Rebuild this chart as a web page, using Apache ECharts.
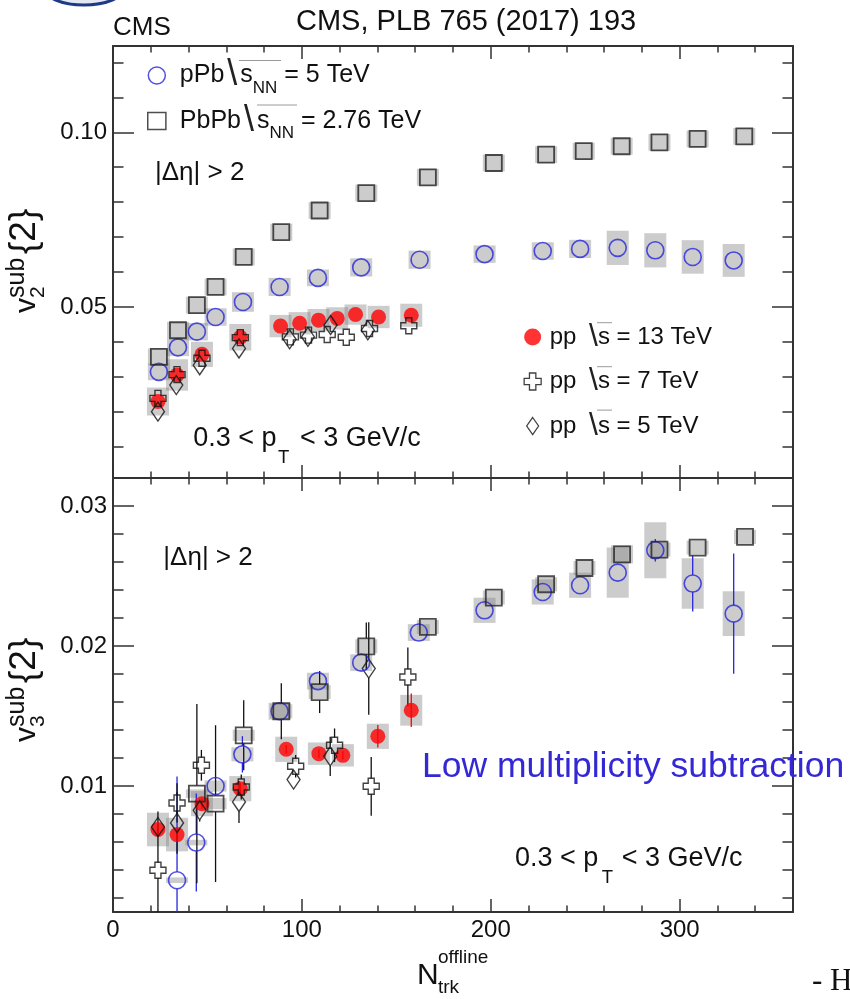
<!DOCTYPE html>
<html><head><meta charset="utf-8">
<script src="https://cdn.jsdelivr.net/npm/echarts@6/dist/echarts.min.js"></script>
<style>html,body{margin:0;padding:0;background:#fff}#c{width:850px;height:999px}</style>
</head><body><div id="c"></div>
<script>
// ---------------- data ----------------
const xTicksMajor = [0, 100, 200, 300];
const xTicksMinor = [20, 40, 60, 80, 120, 140, 160, 180, 220, 240, 260, 280, 320, 340];
const v2TicksMajor = [0.05, 0.10];
const v2TickLabels = ['0.05', '0.10'];
const v2TicksMinor = [0.01, 0.02, 0.03, 0.04, 0.06, 0.07, 0.08, 0.09, 0.11, 0.12];
const v3TicksMajor = [0.01, 0.02, 0.03];
const v3TickLabels = ['0.01', '0.02', '0.03'];
const v3TicksMinor = [0.002, 0.004, 0.006, 0.008, 0.012, 0.014, 0.016, 0.018, 0.022, 0.024, 0.026, 0.028];

// v2 (top panel)
const v2_PbPb_x = [24.3, 34.4, 44.4, 54.3, 69.2, 89.1, 109.4, 134.1, 166.7, 201.6, 229.3, 249.2, 269.3, 289.3, 309.5, 334.2];
const v2_PbPb_y = [0.0357, 0.0433, 0.0505, 0.0557, 0.0643, 0.0714, 0.0776, 0.0826, 0.0871, 0.0912, 0.0936, 0.0946, 0.0960, 0.0971, 0.0981, 0.0988];
const v2_PbPb_sys = [0.0024, 0.0024, 0.0024, 0.0024, 0.0024, 0.0024, 0.0024, 0.0024, 0.0024, 0.0024, 0.0024, 0.0024, 0.0024, 0.0024, 0.0024, 0.0024];

const v2_pPb_x = [24.3, 34.4, 44.4, 54.3, 68.8, 88.2, 108.5, 131.4, 162.3, 196.7, 227.5, 247.3, 267.2, 287.1, 306.9, 328.6];
const v2_pPb_y = [0.0314, 0.0384, 0.0429, 0.0471, 0.0514, 0.0557, 0.0583, 0.0613, 0.0635, 0.0651, 0.0660, 0.0666, 0.0669, 0.0662, 0.0643, 0.0633];
const v2_pPb_sys = [0.0024, 0.0025, 0.0025, 0.0025, 0.0028, 0.0026, 0.0024, 0.0026, 0.0026, 0.0025, 0.0025, 0.0026, 0.0049, 0.0049, 0.0048, 0.0047];

const v2_pp13_x = [23.8, 33.9, 47.1, 67.4, 88.7, 98.8, 108.8, 118.7, 128.4, 140.6, 157.9];
const v2_pp13_y = [0.0229, 0.0305, 0.0364, 0.0413, 0.0445, 0.0453, 0.0462, 0.0467, 0.0478, 0.0471, 0.0476];
const v2_pp13_sys = [0.0040, 0.0045, 0.0036, 0.0038, 0.0032, 0.0032, 0.0032, 0.0032, 0.0029, 0.0032, 0.0033];

const v2_pp7_x = [23.8, 33.9, 47.1, 67.4, 93.9, 103.5, 113.4, 123.5, 135.8, 156.6];
const v2_pp7_y = [0.0238, 0.0306, 0.0353, 0.0412, 0.0414, 0.0419, 0.0421, 0.0413, 0.0438, 0.0446];

const v2_pp5_x = [23.8, 33.5, 45.9, 66.7, 93.5, 103.2, 115.2, 134.9];
const v2_pp5_y = [0.0200, 0.0276, 0.0333, 0.0381, 0.0407, 0.0414, 0.0448, 0.0433];

// v3 (bottom panel)
const v3_PbPb_x = [44.4, 54.3, 69.2, 89.1, 109.4, 134.1, 166.7, 201.6, 229.3, 249.6, 269.5, 289.3, 309.5, 334.6];
const v3_PbPb_y = [0.00946, 0.00874, 0.01362, 0.01534, 0.01671, 0.01998, 0.02136, 0.02346, 0.02441, 0.02557, 0.02655, 0.02689, 0.02703, 0.02779];
const v3_PbPb_err = [0.0064, 0.0056, 0.0025, 0.0020, 0.0015, 0.0017, 0.0005, 0.0004, 0.0004, 0.0003, 0.0003, 0.0003, 0.0003, 0.0003];
const v3_PbPb_sys = [0.0003, 0.0004, 0.0004, 0.0005, 0.0005, 0.0005, 0.0005, 0.0005, 0.0005, 0.0005, 0.00065, 0.0005, 0.0005, 0.0005];

const v3_pPb_x = [33.9, 44.1, 54.3, 68.5, 88.2, 108.5, 131.4, 161.9, 196.7, 227.5, 247.3, 267.2, 287.1, 306.9, 328.6];
const v3_pPb_y = [0.00327, 0.00596, 0.0100, 0.01226, 0.01534, 0.01749, 0.01881, 0.02096, 0.02255, 0.02386, 0.02434, 0.02524, 0.02684, 0.02446, 0.02231];
const v3_pPb_err = [0.0074, 0.0035, 0.0004, 0.0013, 0.0005, 0.0005, 0.0005, 0.0004, 0.0003, 0.0003, 0.0003, 0.0003, 0.0008, 0.0020, 0.0043];
const v3_pPb_sys = [0.0002, 0.0002, 0.0004, 0.0005, 0.0006, 0.0006, 0.0006, 0.0006, 0.0009, 0.0009, 0.0009, 0.0018, 0.0020, 0.0018, 0.0016];

const v3_pp13_x = [23.8, 33.9, 47.1, 67.4, 91.7, 109.0, 121.7, 140.2, 157.9];
const v3_pp13_y = [0.00689, 0.00653, 0.00874, 0.00981, 0.01262, 0.01231, 0.01219, 0.01355, 0.01541];
const v3_pp13_err = [0.0004, 0.0004, 0.0004, 0.0004, 0.0003, 0.0003, 0.0003, 0.0008, 0.0012];
const v3_pp13_sys = [0.0012, 0.0012, 0.0009, 0.0009, 0.0009, 0.0008, 0.0008, 0.0009, 0.0011];

const v3_pp7_x = [23.8, 33.9, 46.8, 67.9, 96.7, 117.3, 136.7, 156.1];
const v3_pp7_y = [0.00398, 0.00879, 0.01148, 0.00993, 0.01141, 0.01291, 0.00998, 0.01779];
const v3_pp7_err = [0.0042, 0.0014, 0.0011, 0.0009, 0.0008, 0.0012, 0.0021, 0.0021];

const v3_pp5_x = [23.8, 33.9, 45.9, 66.7, 95.6, 115.0, 135.4];
const v3_pp5_y = [0.00707, 0.00736, 0.00826, 0.00886, 0.01046, 0.01212, 0.01839];
const v3_pp5_err = [0.0007, 0.0022, 0.0008, 0.0015, 0.0006, 0.0014, 0.0033];

// axis ranges
const X_MIN = 0, X_MAX = 360;
const V2_MIN = 0.001, V2_MAX = 0.1247;
const V3_MIN = 0.001, V3_MAX = 0.032;

// ---------------- styles ----------------
const FONT = '"Liberation Sans", Arial, Helvetica, sans-serif';
const BLUE = '#2626dc';
const RED = '#ff0000';
const INK = '#111111';
const FRAME = '#333333';
const BOX = 'rgba(128,128,128,0.4)';
const BOX_HALF = 11;
const CROSS = 'path://M5,0H11V5H16V11H11V16H5V11H0V5H5Z';
const DIAMOND = 'path://M7,0L14,10L7,20L0,10Z';
const SQUARE = 'path://M0,0H16V15H0Z';

const chart = echarts.init(document.getElementById('c'), null, {renderer: 'canvas'});

const grids = [
  {left: 113, top: 46, width: 680, height: 432},
  {left: 113, top: 478, width: 680, height: 434}
];

function xAx(g, pos, ticks, len, line, labels) {
  return {
    type: 'value', gridIndex: g, position: pos, min: X_MIN, max: X_MAX,
    axisLine: {show: line, onZero: false, lineStyle: {color: FRAME, width: 2}},
    axisTick: {show: true, inside: true, length: len, customValues: ticks, lineStyle: {color: FRAME, width: 1.5}},
    axisLabel: labels ? {show: true, customValues: xTicksMajor, fontSize: 24, fontFamily: FONT, color: INK, margin: 6}
                      : {show: false},
    splitLine: {show: false}
  };
}
function yAx(g, pos, min, max, ticks, len, line, labelVals, labelTxt) {
  return {
    type: 'value', gridIndex: g, position: pos, min: min, max: max,
    axisLine: {show: line, onZero: false, lineStyle: {color: FRAME, width: 2}},
    axisTick: {show: true, inside: true, length: len, customValues: ticks, lineStyle: {color: FRAME, width: 1.5}},
    axisLabel: labelVals ? {show: true, customValues: labelVals, fontSize: 24, fontFamily: FONT, color: INK, margin: 6,
                            formatter: v => labelTxt[labelVals.findIndex(t => Math.abs(t - v) < 1e-9)]}
                         : {show: false},
    splitLine: {show: false}
  };
}

const xAxes = [
  xAx(0, 'bottom', xTicksMajor, 13, true, false),
  xAx(0, 'bottom', xTicksMinor, 6.5, false, false),
  xAx(0, 'top', xTicksMajor, 13, true, false),
  xAx(0, 'top', xTicksMinor, 6.5, false, false),
  xAx(1, 'bottom', xTicksMajor, 13, true, true),
  xAx(1, 'bottom', xTicksMinor, 6.5, false, false),
  xAx(1, 'top', xTicksMajor, 13, true, false),
  xAx(1, 'top', xTicksMinor, 6.5, false, false)
];
const yAxes = [
  yAx(0, 'left', V2_MIN, V2_MAX, v2TicksMajor, 21, true, v2TicksMajor, v2TickLabels),
  yAx(0, 'left', V2_MIN, V2_MAX, v2TicksMinor, 10.5, false),
  yAx(0, 'right', V2_MIN, V2_MAX, v2TicksMajor, 21, true),
  yAx(0, 'right', V2_MIN, V2_MAX, v2TicksMinor, 10.5, false),
  yAx(1, 'left', V3_MIN, V3_MAX, v3TicksMajor, 21, true, v3TicksMajor, v3TickLabels),
  yAx(1, 'left', V3_MIN, V3_MAX, v3TicksMinor, 10.5, false),
  yAx(1, 'right', V3_MIN, V3_MAX, v3TicksMajor, 21, true),
  yAx(1, 'right', V3_MIN, V3_MAX, v3TicksMinor, 10.5, false)
];

function pts(xs, ys) { return xs.map((x, i) => [x, ys[i]]); }

function boxSeries(name, ai, xs, ys, sys, ymin, ymax) {
  return {
    type: 'custom', name: name, xAxisIndex: ai, yAxisIndex: ai, z: 1, silent: true,
    data: xs.map((x, i) => [x, ys[i], sys[i]]),
    encode: {x: 0, y: 1},
    renderItem: function (params, api) {
      const x = api.value(0), y = api.value(1), s = api.value(2);
      const p1 = api.coord([x, Math.min(y + s, ymax)]);
      const p2 = api.coord([x, Math.max(y - s, ymin)]);
      return {type: 'rect', shape: {x: p1[0] - BOX_HALF, y: p1[1], width: 2 * BOX_HALF, height: p2[1] - p1[1]},
              style: {fill: BOX}};
    }
  };
}
function errSeries(name, ai, xs, ys, es, color, gap, ymin, ymax) {
  return {
    type: 'custom', name: name, xAxisIndex: ai, yAxisIndex: ai, z: 2, silent: true,
    data: xs.map((x, i) => [x, ys[i], es[i]]),
    encode: {x: 0, y: 1},
    renderItem: function (params, api) {
      const x = api.value(0), y = api.value(1), e = api.value(2);
      const pc = api.coord([x, y]);
      const pt = api.coord([x, Math.min(y + e, ymax)]);
      const pb = api.coord([x, Math.max(y - e, ymin)]);
      const ch = [];
      if (pc[1] - gap > pt[1]) ch.push({type: 'line', shape: {x1: pc[0], y1: pt[1], x2: pc[0], y2: pc[1] - gap}, style: {stroke: color, lineWidth: 1.3}});
      if (pc[1] + gap < pb[1]) ch.push({type: 'line', shape: {x1: pc[0], y1: pc[1] + gap, x2: pc[0], y2: pb[1]}, style: {stroke: color, lineWidth: 1.3}});
      return {type: 'group', children: ch};
    }
  };
}
const MARK = {
  pPb:  {symbol: 'circle', symbolSize: 17, z: 6, itemStyle: {color: 'rgba(0,0,0,0)', borderColor: BLUE, borderWidth: 1.6}},
  PbPb: {symbol: 'rect', symbolSize: 16, z: 7, itemStyle: {color: 'rgba(0,0,0,0)', borderColor: '#222', borderWidth: 1.8}},
  pp13: {symbol: 'circle', symbolSize: 15, z: 3, itemStyle: {color: RED, borderWidth: 0}},
  pp7:  {symbol: CROSS, symbolSize: 16, z: 4, itemStyle: {color: 'rgba(0,0,0,0)', borderColor: INK, borderWidth: 1.4}},
  pp5:  {symbol: DIAMOND, symbolSize: [13, 19], z: 5, itemStyle: {color: 'rgba(0,0,0,0)', borderColor: INK, borderWidth: 1.4}}
};
function scat(name, ai, xs, ys) {
  return Object.assign({type: 'scatter', name: name, xAxisIndex: ai, yAxisIndex: ai, silent: true,
    emphasis: {disabled: true}, data: pts(xs, ys)}, MARK[name]);
}

const series = [
  // top panel
  boxSeries('pPb sys', 0, v2_pPb_x, v2_pPb_y, v2_pPb_sys, V2_MIN, V2_MAX),
  boxSeries('PbPb sys', 0, v2_PbPb_x, v2_PbPb_y, v2_PbPb_sys, V2_MIN, V2_MAX),
  boxSeries('pp13 sys', 0, v2_pp13_x, v2_pp13_y, v2_pp13_sys, V2_MIN, V2_MAX),
  scat('pp13', 0, v2_pp13_x, v2_pp13_y),
  scat('pp7', 0, v2_pp7_x, v2_pp7_y),
  scat('pp5', 0, v2_pp5_x, v2_pp5_y),
  scat('pPb', 0, v2_pPb_x, v2_pPb_y),
  scat('PbPb', 0, v2_PbPb_x, v2_PbPb_y),
  // bottom panel
  boxSeries('pPb sys3', 4, v3_pPb_x, v3_pPb_y, v3_pPb_sys, V3_MIN, V3_MAX),
  boxSeries('PbPb sys3', 4, v3_PbPb_x, v3_PbPb_y, v3_PbPb_sys, V3_MIN, V3_MAX),
  boxSeries('pp13 sys3', 4, v3_pp13_x, v3_pp13_y, v3_pp13_sys, V3_MIN, V3_MAX),
  errSeries('pPb err3', 4, v3_pPb_x, v3_pPb_y, v3_pPb_err, BLUE, 8.5, V3_MIN, V3_MAX),
  errSeries('PbPb err3', 4, v3_PbPb_x, v3_PbPb_y, v3_PbPb_err, INK, 8, V3_MIN, V3_MAX),
  errSeries('pp13 err3', 4, v3_pp13_x, v3_pp13_y, v3_pp13_err, RED, 0, V3_MIN, V3_MAX),
  errSeries('pp7 err3', 4, v3_pp7_x, v3_pp7_y, v3_pp7_err, INK, 8, V3_MIN, V3_MAX),
  errSeries('pp5 err3', 4, v3_pp5_x, v3_pp5_y, v3_pp5_err, INK, 9.5, V3_MIN, V3_MAX),
  scat('pp13', 4, v3_pp13_x, v3_pp13_y),
  scat('pp7', 4, v3_pp7_x, v3_pp7_y),
  scat('pp5', 4, v3_pp5_x, v3_pp5_y),
  scat('pPb', 4, v3_pPb_x, v3_pPb_y),
  scat('PbPb', 4, v3_PbPb_x, v3_PbPb_y)
];

// ---------------- legends ----------------
const legendA = {
  pPb: '{t|pPb}{r|\\}{t|s}{sub|NN}{t| = 5 TeV}',
  PbPb: '{t|PbPb}{r|\\}{t|s}{sub|NN}{t| = 2.76 TeV}'
};
const legendB = {
  pp13: '{t|pp }{r|\\}{t|s = 13 TeV}',
  pp7: '{t|pp }{r|\\}{t|s = 7 TeV}',
  pp5: '{t|pp }{r|\\}{t|s = 5 TeV}'
};
const legends = [
  {
    orient: 'vertical', left: 147, top: 57.5, padding: 0, itemWidth: 36, itemHeight: 17, itemGap: 6.5,
    selectedMode: false,
    data: [
      {name: 'pPb', icon: 'circle', itemStyle: {color: 'rgba(0,0,0,0)', borderColor: BLUE, borderWidth: 1.5}},
      {name: 'PbPb', icon: SQUARE, itemStyle: {color: '#fff', borderColor: '#222', borderWidth: 1.5}}
    ],
    formatter: n => legendA[n],
    textStyle: {fontFamily: FONT, color: INK, rich: {
      t: {fontSize: 25, lineHeight: 42, fontFamily: FONT, color: INK},
      r: {fontSize: 36, lineHeight: 42, fontFamily: FONT, color: '#222', padding: [0, 3, 0, 3]},
      sub: {fontSize: 17, lineHeight: 17, verticalAlign: 'bottom', fontFamily: FONT, color: INK}
    }}
  },
  {
    orient: 'vertical', left: 523.5, top: 321, padding: 0, itemWidth: 24, itemHeight: 17, itemGap: 12.5,
    selectedMode: false,
    data: [
      {name: 'pp13', icon: 'circle', itemStyle: {color: RED, borderWidth: 0}},
      {name: 'pp7', icon: CROSS, itemStyle: {color: 'rgba(0,0,0,0)', borderColor: INK, borderWidth: 1.3}},
      {name: 'pp5', icon: DIAMOND, itemStyle: {color: 'rgba(0,0,0,0)', borderColor: INK, borderWidth: 1.3}}
    ],
    formatter: n => legendB[n],
    textStyle: {fontFamily: FONT, color: INK, rich: {
      t: {fontSize: 24, lineHeight: 30, fontFamily: FONT, color: INK},
      r: {fontSize: 32, lineHeight: 30, fontFamily: FONT, color: '#222', padding: [0, 0, 0, 6]}
    }}
  }
];

// ---------------- texts ----------------
function txt(x, base, text, size, color, family) {
  return {
    type: 'text', x: x, y: base - 0.3465 * size, z: 100, silent: true,
    style: {text: text, fontSize: size, fontFamily: family || FONT, fill: color || INK,
            align: 'left', verticalAlign: 'middle', textAlign: 'left', textVerticalAlign: 'middle'}
  };
}
function hline(x1, x2, y) {
  return {type: 'line', z: 100, silent: true, shape: {x1: x1, y1: y, x2: x2, y2: y}, style: {stroke: '#9a9a9a', lineWidth: 1}};
}
function yTitle(x, y, n) {
  return {type: 'group', x: x, y: y, rotation: Math.PI / 2, children: [
    txt(0, 0, 'v', 30),
    txt(15, -12, 'sub', 25),
    txt(15, 8, n, 21),
    txt(59, 0, '{2}', 37)
  ]};
}
const graphics = [
  {type: 'ellipse', z: 0, silent: true, shape: {cx: 84, cy: -12, rx: 40, ry: 17}, style: {fill: '#e3e8f4', stroke: '#1d3a84', lineWidth: 3}},
  txt(113, 36.7, 'CMS', 26),
  txt(296, 32.5, 'CMS, PLB 765 (2017) 193', 29),
  // legend overlines (square-root bars)
  hline(239, 281, 60.5), hline(257, 297, 105),
  hline(597, 612, 322.7), hline(597, 612, 366.7), hline(597, 612, 410.1),
  // top panel labels
  txt(155, 181.7, '|\u0394\u03b7| > 2', 26),
  txt(193.3, 448.3, '0.3 < p', 27), txt(278, 464.5, 'T', 18.5), txt(300, 448.3, '< 3 GeV/c', 27),
  // bottom panel labels
  txt(163.3, 567.3, '|\u0394\u03b7| > 2', 26),
  txt(422, 779.3, 'Low multiplicity subtraction', 35.5, '#3328d4'),
  txt(515, 868.3, '0.3 < p', 27), txt(601.7, 884, 'T', 18.5), txt(621.7, 868.3, '< 3 GeV/c', 27),
  // axis titles
  yTitle(37.5, 313, '2'),
  yTitle(37.5, 742, '3'),
  txt(417, 986, 'N', 30), txt(438, 964, 'offline', 19), txt(438, 994, 'trk', 19),
  txt(812, 993, '- H', 31, INK, '"Liberation Serif", "Times New Roman", serif')
];

chart.setOption({
  animation: false,
  backgroundColor: '#ffffff',
  grid: grids,
  xAxis: xAxes,
  yAxis: yAxes,
  legend: legends,
  series: series,
  graphic: {elements: graphics}
});
</script>
</body></html>
